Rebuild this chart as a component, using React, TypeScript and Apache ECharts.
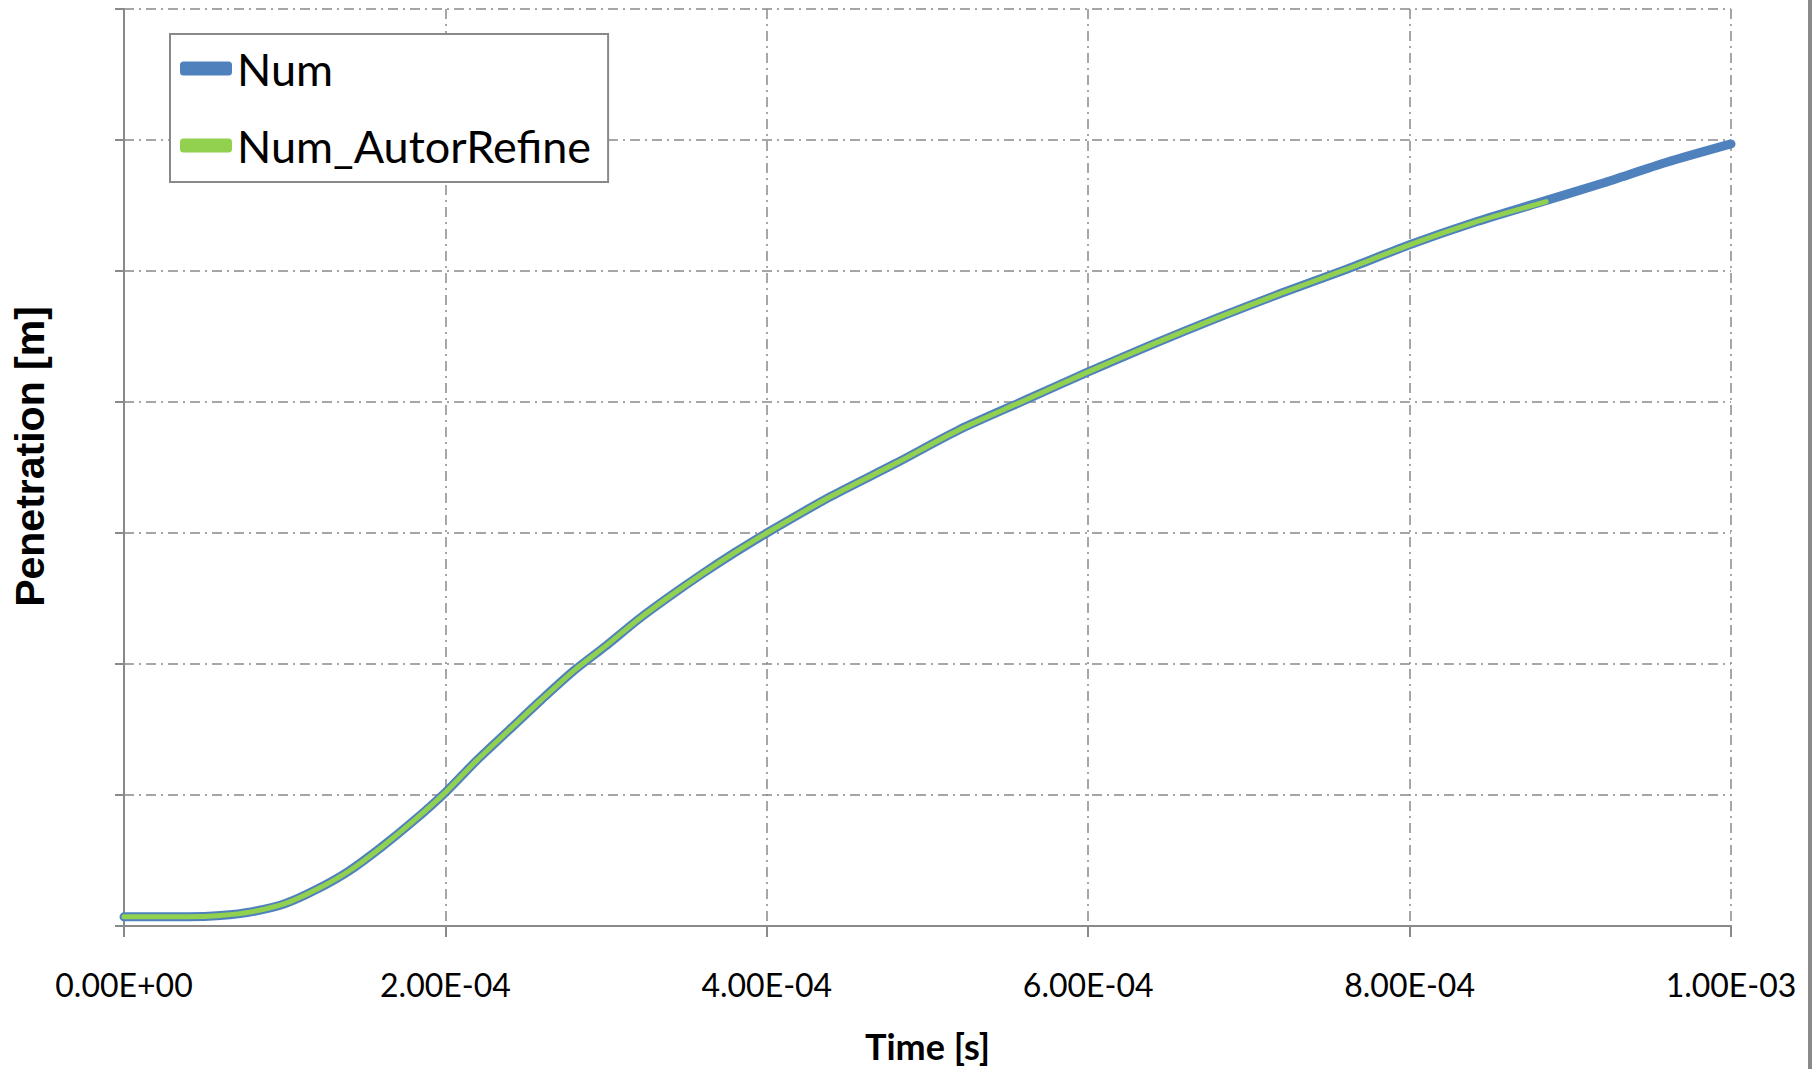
import React, { useEffect, useRef } from "react";
import * as echarts from "echarts";

// Time [s]
const timeNum = [
  0, 0.2e-4, 0.4e-4, 0.6e-4, 0.8e-4, 1.0e-4, 1.2e-4, 1.4e-4, 1.6e-4, 1.8e-4,
  2.0e-4, 2.2e-4, 2.4e-4, 2.6e-4, 2.8e-4, 3.0e-4, 3.2e-4, 3.4e-4, 3.6e-4, 3.8e-4,
  4.0e-4, 4.4e-4, 4.8e-4, 5.2e-4, 5.6e-4, 6.0e-4, 6.4e-4, 6.8e-4, 7.2e-4, 7.6e-4,
  8.0e-4, 8.4e-4, 8.8e-4, 9.2e-4, 9.6e-4, 1.0e-3,
];
// Penetration (gridline units; axis labels are hidden in the reference)
const penNum = [
  0.07, 0.07, 0.07, 0.08, 0.11, 0.17, 0.28, 0.42, 0.6, 0.8,
  1.02, 1.27, 1.5, 1.73, 1.95, 2.14, 2.34, 2.52, 2.69, 2.85,
  3.0, 3.28, 3.53, 3.79, 4.01, 4.23, 4.44, 4.64, 4.83, 5.01,
  5.2, 5.37, 5.52, 5.67, 5.83, 5.97,
];
const timeRefine = [
  0, 0.2e-4, 0.4e-4, 0.6e-4, 0.8e-4, 1.0e-4, 1.2e-4, 1.4e-4, 1.6e-4, 1.8e-4,
  2.0e-4, 2.2e-4, 2.4e-4, 2.6e-4, 2.8e-4, 3.0e-4, 3.2e-4, 3.4e-4, 3.6e-4, 3.8e-4,
  4.0e-4, 4.4e-4, 4.8e-4, 5.2e-4, 5.6e-4, 6.0e-4, 6.4e-4, 6.8e-4, 7.2e-4, 7.6e-4,
  8.0e-4, 8.4e-4, 8.85e-4,
];
const penRefine = [
  0.07, 0.07, 0.07, 0.08, 0.11, 0.17, 0.28, 0.42, 0.6, 0.8,
  1.02, 1.27, 1.5, 1.73, 1.95, 2.14, 2.34, 2.52, 2.69, 2.85,
  3.0, 3.28, 3.53, 3.79, 4.01, 4.23, 4.44, 4.64, 4.83, 5.01,
  5.2, 5.37, 5.53,
];
const xTicks = ["0.00E+00", "2.00E-04", "4.00E-04", "6.00E-04", "8.00E-04", "1.00E-03"];
const seriesNames = ["Num", "Num_AutorRefine"];

const GRAY = "#898989";
const gridDash = [10, 5, 2, 5];

export default function App() {
  const ref = useRef<HTMLDivElement>(null);
  useEffect(() => {
    if (!ref.current) return;
    const chart = echarts.init(ref.current, null, { renderer: "svg" });
    const fmt = (v: number) => {
      const idx = Math.round(v / 2e-4);
      return xTicks[idx] ?? "";
    };
    chart.setOption({
      animation: false,
      backgroundColor: "#ffffff",
      grid: { left: 124, right: 85, top: 9, bottom: 143, containLabel: false },
      legend: {
        orient: "vertical",
        left: 170,
        top: 34,
        backgroundColor: "#ffffff",
        borderColor: GRAY,
        borderWidth: 2,
        borderRadius: 0,
        padding: [12, 17, 14, 10],
        itemGap: 32,
        itemWidth: 52,
        itemHeight: 14,
        textStyle: { fontFamily: "Lato", fontSize: 45, color: "#000" },
        data: [
          { name: seriesNames[0], icon: "roundRect", itemStyle: { color: "#4F81BD" } },
          { name: seriesNames[1], icon: "roundRect", itemStyle: { color: "#92D050" } },
        ],
      },
      xAxis: {
        type: "value",
        min: 0,
        max: 1e-3,
        interval: 2e-4,
        name: "Time [s]",
        nameLocation: "middle",
        nameGap: 102,
        nameTextStyle: { fontFamily: "Lato", fontWeight: "bold", fontSize: 36, color: "#000" },
        axisLine: { show: true, lineStyle: { color: GRAY, width: 2 } },
        axisTick: { show: true, length: 11, lineStyle: { color: GRAY, width: 2 } },
        axisLabel: {
          formatter: fmt,
          fontFamily: "Lato",
          fontSize: 32,
          color: "#000",
          margin: 42,
        },
        splitLine: { show: true, lineStyle: { color: GRAY, width: 1.5, type: gridDash } },
      },
      yAxis: {
        type: "value",
        min: 0,
        max: 7,
        interval: 1,
        name: "Penetration [m]",
        nameLocation: "middle",
        nameRotate: 90,
        nameGap: 74,
        nameTextStyle: {
          fontFamily: "Liberation Sans",
          fontWeight: "bold",
          fontSize: 41,
          color: "#000",
          padding: [0, 0, 0, 22],
        },
        axisLine: { show: true, lineStyle: { color: GRAY, width: 2 } },
        axisTick: { show: true, length: 9, lineStyle: { color: GRAY, width: 2 } },
        axisLabel: { show: false },
        splitLine: { show: true, lineStyle: { color: GRAY, width: 1.5, type: gridDash } },
      },
      series: [
        {
          name: seriesNames[0],
          type: "line",
          data: timeNum.map((t, i) => [t, penNum[i]]),
          showSymbol: false,
          symbol: "none",
          smooth: 0.25,
          color: "#4F81BD",
          lineStyle: { color: "#4F81BD", width: 9, cap: "round", join: "round" },
          z: 2,
        },
        {
          name: seriesNames[1],
          type: "line",
          data: timeRefine.map((t, i) => [t, penRefine[i]]),
          showSymbol: false,
          symbol: "none",
          smooth: 0.25,
          color: "#92D050",
          lineStyle: { color: "#92D050", width: 5, cap: "round", join: "round" },
          z: 3,
        },
      ],
      graphic: [
        {
          type: "rect",
          shape: { x: 1808, y: 0, width: 4, height: 1069 },
          style: { fill: "#8a8a8a" },
          silent: true,
        },
      ],
    });
    return () => chart.dispose();
  }, []);
  return <div ref={ref} style={{ width: 1816, height: 1069, position: "absolute", left: 0, top: 0 }} />;
}
